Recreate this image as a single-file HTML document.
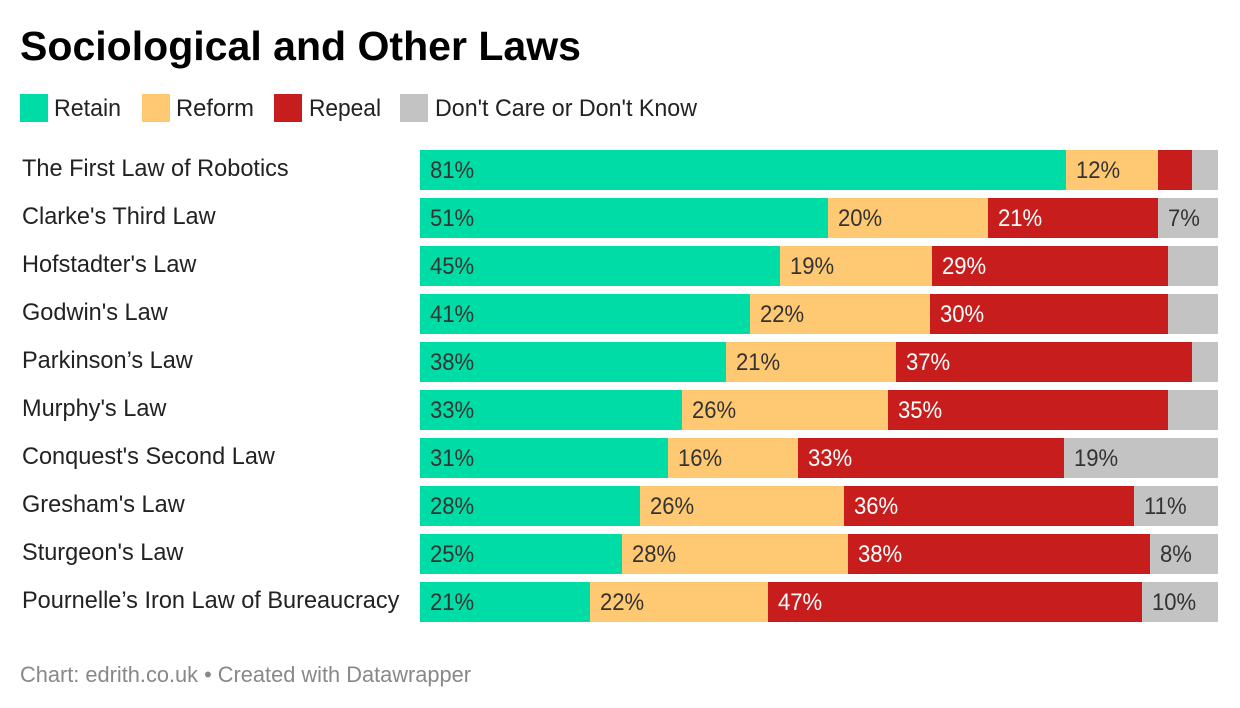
<!DOCTYPE html>
<html lang="en">
<head>
<meta charset="utf-8">
<title>Sociological and Other Laws</title>
<style>
html,body{margin:0;padding:0;background:#fff;width:1240px;height:708px;overflow:hidden}
svg{display:block;font-family:"Liberation Sans",sans-serif}
</style>
</head>
<body>
<svg id="chart" xmlns="http://www.w3.org/2000/svg" width="1240" height="708" viewBox="0 0 1240 708">
  <text x="20" y="60" font-size="41" font-weight="700" fill="#000" textLength="561" lengthAdjust="spacingAndGlyphs">Sociological and Other Laws</text>
  <g font-size="24" fill="#222">
    <g><rect x="20" y="94" width="28" height="28" fill="#00dca6"/><text x="54" y="116" textLength="67" lengthAdjust="spacingAndGlyphs">Retain</text></g>
    <g><rect x="142" y="94" width="28" height="28" fill="#ffc973"/><text x="176" y="116" textLength="78" lengthAdjust="spacingAndGlyphs">Reform</text></g>
    <g><rect x="274" y="94" width="28" height="28" fill="#c71e1d"/><text x="309" y="116" textLength="72" lengthAdjust="spacingAndGlyphs">Repeal</text></g>
    <g><rect x="400" y="94" width="28" height="28" fill="#c3c3c3"/><text x="435" y="116" textLength="262" lengthAdjust="spacingAndGlyphs">Don't Care or Don't Know</text></g>
  </g>
  <g id="rows"></g>
  <text x="20" y="682" font-size="22" fill="#888" textLength="451" lengthAdjust="spacingAndGlyphs">Chart: edrith.co.uk • Created with Datawrapper</text>
</svg>
<script>
const categories = ["The First Law of Robotics","Clarke's Third Law","Hofstadter's Law","Godwin's Law","Parkinson’s Law","Murphy's Law","Conquest's Second Law","Gresham's Law","Sturgeon's Law","Pournelle’s Iron Law of Bureaucracy"];
const retain = [81,51.1,45.1,41.4,38.35,32.83,31.08,27.57,25.3,21.3];
const reform = [11.5,20.05,19.1,22.49,21.3,25.8,16.29,25.56,28.32,22.3];
const repeal = [4.3,21.3,29.49,29.82,37.1,35.09,33.33,36.34,37.84,46.87];
const dontCare = [3.2,7.49,6.3,6.3,3.26,6.27,19.3,10.53,8.49,9.52];
const seriesNames = ["retain","reform","repeal","dont-care"];
const seriesColors = ["#00dca6","#ffc973","#c71e1d","#c3c3c3"];
const labelColors = ["#333333","#333333","#ffffff","#333333"];

const NS = "http://www.w3.org/2000/svg";
const plotLeft = 420, plotWidth = 798, rowTop = 150, rowStep = 48, barHeight = 40, minLabelValue = 6.5;
const xScale = v => plotLeft + v / 100 * plotWidth;
const yScale = i => rowTop + i * rowStep;
const rowsGroup = document.getElementById("rows");
const allSeries = [retain, reform, repeal, dontCare];

function squeeze(textEl, factor) {
  const len = textEl.getComputedTextLength();
  textEl.setAttribute("textLength", (len * factor).toFixed(1));
  textEl.setAttribute("lengthAdjust", "spacingAndGlyphs");
}

categories.forEach((name, i) => {
  const row = document.createElementNS(NS, "g");
  
  
  rowsGroup.appendChild(row);
  const label = document.createElementNS(NS, "text");
  
  
  label.setAttribute("x", 22);
  label.setAttribute("y", yScale(i) + 26);
  label.setAttribute("font-size", 24);
  label.setAttribute("fill", "#222");
  label.textContent = name;
  row.appendChild(label);
  squeeze(label, 0.98);
  let cum = 0;
  allSeries.forEach((series, s) => {
    const v = series[i];
    const x0 = Math.round(xScale(cum));
    const x1 = Math.round(xScale(cum + v));
    const bar = document.createElementNS(NS, "rect");
    
    
    bar.setAttribute("x", x0);
    bar.setAttribute("y", yScale(i));
    bar.setAttribute("width", x1 - x0);
    bar.setAttribute("height", barHeight);
    bar.setAttribute("fill", seriesColors[s]);
    bar.setAttribute("shape-rendering", "crispEdges");
    row.appendChild(bar);
    if (v >= minLabelValue) {
      const t = document.createElementNS(NS, "text");
      
      
      t.setAttribute("x", x0 + 10);
      t.setAttribute("y", yScale(i) + 28);
      t.setAttribute("font-size", 24);
      t.setAttribute("fill", labelColors[s]);
      t.textContent = Math.round(v) + "%";
      row.appendChild(t);
      squeeze(t, 0.92);
    }
    cum += v;
  });
});
</script>
</body>
</html>
